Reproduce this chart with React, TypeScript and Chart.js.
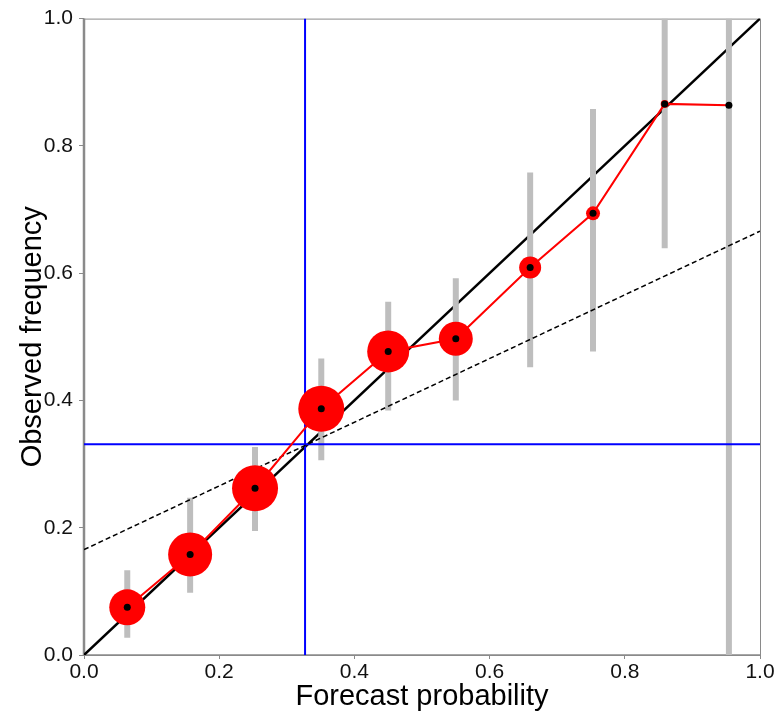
import React, { useEffect, useRef } from "react";
import { Chart, registerables } from "chart.js";

Chart.register(...registerables);

// Forecast probability bin centres
const forecastProb = [0.064, 0.157, 0.253, 0.351, 0.45, 0.55, 0.66, 0.753, 0.859, 0.954];
// Observed relative frequency
const observedFreq = [0.075, 0.158, 0.262, 0.387, 0.477, 0.497, 0.609, 0.694, 0.866, 0.864];
// Confidence interval bounds
const ciLow = [0.027, 0.098, 0.195, 0.306, 0.384, 0.4, 0.452, 0.477, 0.639, 0.0];
const ciHigh = [0.133, 0.247, 0.327, 0.466, 0.555, 0.592, 0.758, 0.858, 1.0, 1.0];
// Relative sample size (drawn as marker radius)
const binSize = [18, 22, 23, 23, 21, 17, 11, 7, 4, 2];
// Climatology
const climX = 0.327;
const climY = 0.331;
// No-skill line end points
const noSkillStart = 0.1656;
const noSkillEnd = 0.666;
// Axis ticks
const tickValues = [0, 0.2, 0.4, 0.6, 0.8, 1.0];

const FONT = "'Liberation Sans', Arial, Helvetica, sans-serif";

export default function App() {
  const ref = useRef<HTMLCanvasElement | null>(null);

  useEffect(() => {
    if (!ref.current) return;
    const errData: any[] = [];
    forecastProb.forEach((x, i) => {
      errData.push({ x, y: ciLow[i] });
      errData.push({ x, y: ciHigh[i] });
      errData.push({ x, y: null });
    });
    const pts = forecastProb.map((x, i) => ({ x, y: observedFreq[i] }));

    const framePlugin = {
      id: "frame",
      beforeDatasetsDraw(chart: any) {
        const { ctx, chartArea: a } = chart;
        ctx.save();
        ctx.strokeStyle = "#8a8a8a";
        ctx.lineWidth = 1;
        ctx.strokeRect(a.left + 0.5, a.top + 0.5, a.right - a.left, a.bottom - a.top);
        ctx.lineWidth = 2.5;
        ctx.beginPath();
        ctx.moveTo(a.left, a.top);
        ctx.lineTo(a.left, a.bottom);
        ctx.stroke();
        ctx.lineWidth = 1.5;
        ctx.beginPath();
        ctx.moveTo(a.left, a.bottom);
        ctx.lineTo(a.right, a.bottom);
        ctx.stroke();
        ctx.restore();
      },
    };

    const chart = new Chart(ref.current, {
      type: "scatter",
      data: {
        datasets: [
          {
            label: "dots",
            data: pts,
            showLine: false,
            pointRadius: 3.5,
            pointBackgroundColor: "#000",
            pointBorderWidth: 0,
          },
          {
            label: "observed",
            data: pts,
            showLine: true,
            borderColor: "#ff0000",
            borderWidth: 2,
            pointRadius: binSize,
            pointBackgroundColor: "#ff0000",
            pointBorderWidth: 0,
          },
          {
            label: "noskill",
            data: [
              { x: 0, y: noSkillStart },
              { x: 1, y: noSkillEnd },
            ],
            showLine: true,
            borderColor: "#000",
            borderWidth: 1.5,
            borderDash: [5, 3],
            pointRadius: 0,
          },
          {
            label: "climV",
            data: [
              { x: climX, y: 0 },
              { x: climX, y: 1 },
            ],
            showLine: true,
            borderColor: "#0000ff",
            borderWidth: 2,
            pointRadius: 0,
          },
          {
            label: "climH",
            data: [
              { x: 0, y: climY },
              { x: 1, y: climY },
            ],
            showLine: true,
            borderColor: "#0000ff",
            borderWidth: 2,
            pointRadius: 0,
          },
          {
            label: "ci",
            data: errData,
            showLine: true,
            spanGaps: false,
            borderColor: "#bebebe",
            borderWidth: 6,
            borderCapStyle: "butt",
            pointRadius: 0,
          },
          {
            label: "perfect",
            data: [
              { x: 0, y: 0 },
              { x: 1, y: 1 },
            ],
            showLine: true,
            borderColor: "#000",
            borderWidth: 2.5,
            pointRadius: 0,
          },
        ],
      },
      options: {
        responsive: false,
        animation: false,
        events: [],
        layout: { padding: { left: 0, top: 15, right: 21, bottom: 0 } },
        plugins: {
          legend: { display: false },
          tooltip: { enabled: false },
        },
        scales: {
          x: {
            type: "linear",
            min: 0,
            max: 1,
            afterFit: (s: any) => {
              s.height = 59;
            },
            afterBuildTicks: (s: any) => {
              s.ticks = tickValues.map((v) => ({ value: v }));
            },
            ticks: {
              autoSkip: false,
              maxRotation: 0,
              padding: 1,
              color: "#111",
              font: { family: FONT, size: 21 },
              callback: (v: any) => Number(v).toFixed(1),
            },
            grid: {
              display: true,
              drawOnChartArea: false,
              drawTicks: true,
              tickLength: 4,
              color: "#8a8a8a",
            },
            border: { display: false },
            title: {
              display: true,
              text: "Forecast probability",
              color: "#000",
              font: { family: FONT, size: 29 },
              padding: { top: 0, bottom: 0 },
            },
          },
          y: {
            type: "linear",
            min: 0,
            max: 1,
            afterFit: (s: any) => {
              s.width = 84;
            },
            afterBuildTicks: (s: any) => {
              s.ticks = tickValues.map((v) => ({ value: v }));
            },
            ticks: {
              autoSkip: false,
              padding: 6,
              color: "#111",
              font: { family: FONT, size: 21 },
              callback: (v: any) => Number(v).toFixed(1),
            },
            grid: {
              display: true,
              drawOnChartArea: false,
              drawTicks: true,
              tickLength: 5,
              color: "#8a8a8a",
            },
            border: { display: false },
            title: {
              display: true,
              text: "Observed frequency",
              color: "#000",
              font: { family: FONT, size: 29 },
              padding: { top: 16, bottom: 0 },
            },
          },
        },
      },
      plugins: [framePlugin],
    });
    return () => chart.destroy();
  }, []);

  return (
    <div style={{ position: "fixed", left: 0, top: 0, width: 781, height: 714, background: "#fff" }}>
      <canvas ref={ref} width={781} height={714} style={{ display: "block", width: 781, height: 714 }} />
    </div>
  );
}
